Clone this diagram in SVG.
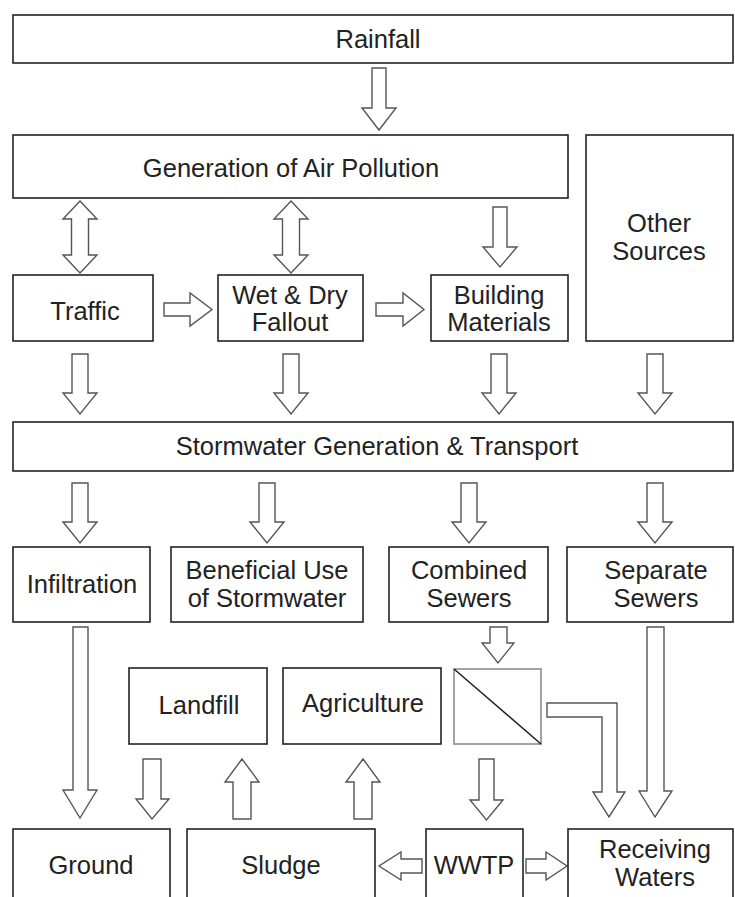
<svg xmlns="http://www.w3.org/2000/svg" width="735" height="897" viewBox="0 0 735 897">
<style>
.box{fill:#fff;stroke:#222;stroke-width:1.6}
.split{fill:#fff;stroke:#9a9a9a;stroke-width:1.8}
.arr{fill:#fff;stroke:#555;stroke-width:1.4;stroke-linejoin:miter}
text{font-family:"Liberation Sans",Arial,sans-serif;font-size:25.5px;fill:#222;text-anchor:middle}
</style>
<rect width="735" height="897" fill="#fff"/>
<g id="connectors">
<polygon class="arr" points="372,68 386,68 386,108 396,108 379,130 362,108 372,108"/>
<polygon class="arr" points="80,201 97,219 88.5,219 88.5,255 97,255 80,273 63,255 71.5,255 71.5,219 63,219"/>
<polygon class="arr" points="291,201 308,219 299.5,219 299.5,255 308,255 291,273 274,255 282.5,255 282.5,219 274,219"/>
<polygon class="arr" points="493,207 507,207 507,247 517,247 500,267 483,247 493,247"/>
<polygon class="arr" points="164,303 190,303 190,293 212,309.5 190,326 190,316 164,316"/>
<polygon class="arr" points="376,303 403,303 403,293 424,309.5 403,326 403,316 376,316"/>
<polygon class="arr" points="72,354 88,354 88,393 97,393 80,414 63,393 72,393"/>
<polygon class="arr" points="283,354 299,354 299,393 308,393 291,414 274,393 283,393"/>
<polygon class="arr" points="491,354 507,354 507,393 516,393 499,414 482,393 491,393"/>
<polygon class="arr" points="647,354 663,354 663,393 672,393 655,414 638,393 647,393"/>
<polygon class="arr" points="72,483 88,483 88,522 97,522 80,543 63,522 72,522"/>
<polygon class="arr" points="259,483 275,483 275,522 284,522 267,543 250,522 259,522"/>
<polygon class="arr" points="461,483 477,483 477,522 486,522 469,543 452,522 461,522"/>
<polygon class="arr" points="647,483 663,483 663,522 672,522 655,543 638,522 647,522"/>
<polygon class="arr" points="490,627 507,627 507,643 514,643 498,663 482,643 490,643"/>
<polygon class="arr" points="73,627 88,627 88,790 97,790 80,818 63,790 73,790"/>
<polygon class="arr" points="647,627 664,627 664,791 672,791 655,817 639,791 647,791"/>
<polygon class="arr" points="547,703 617,703 617,792 625,792 609,817 593,792 602,792 602,717 547,717"/>
<polygon class="arr" points="143,759 161,759 161,799 169,799 152,819 136,799 143,799"/>
<polygon class="arr" points="242,759 259,782 251,782 251,819 233,819 233,782 225,782"/>
<polygon class="arr" points="363,759 380,782 372,782 372,819 354,819 354,782 346,782"/>
<polygon class="arr" points="479,759 494,759 494,800 503,800 486.5,820 470,800 479,800"/>
<polygon class="arr" points="422,859 401,859 401,852 379,866 401,880 401,873 422,873"/>
<polygon class="arr" points="526,859 546,859 546,852 567,866 546,880 546,873 526,873"/>
</g>
<g id="rainfall"><rect class="box" x="13" y="15" width="720" height="48"/><text x="378" y="48">Rainfall</text></g>
<g id="air-pollution"><rect class="box" x="13" y="135" width="555" height="63"/><text x="291" y="177">Generation of Air Pollution</text></g>
<g id="other-sources"><rect class="box" x="586" y="135" width="147" height="206"/><text x="659" y="232">Other</text><text x="659" y="260">Sources</text></g>
<g id="traffic"><rect class="box" x="13" y="275" width="140" height="66"/><text x="85" y="320">Traffic</text></g>
<g id="fallout"><rect class="box" x="218" y="275" width="145" height="66"/><text x="290" y="304">Wet &amp; Dry</text><text x="290" y="331">Fallout</text></g>
<g id="building"><rect class="box" x="431" y="275" width="137" height="66"/><text x="499" y="304">Building</text><text x="499" y="331">Materials</text></g>
<g id="stormwater"><rect class="box" x="13" y="422" width="720" height="49"/><text x="377" y="455">Stormwater Generation &amp; Transport</text></g>
<g id="infiltration"><rect class="box" x="13" y="547" width="137" height="75"/><text x="82" y="593">Infiltration</text></g>
<g id="beneficial"><rect class="box" x="171" y="547" width="192" height="75"/><text x="267" y="579">Beneficial Use</text><text x="267" y="607">of Stormwater</text></g>
<g id="combined"><rect class="box" x="389" y="547" width="159" height="75"/><text x="469" y="579">Combined</text><text x="469" y="607">Sewers</text></g>
<g id="separate"><rect class="box" x="567" y="547" width="166" height="75"/><text x="656" y="579">Separate</text><text x="656" y="607">Sewers</text></g>
<g id="landfill"><rect class="box" x="129" y="668" width="138" height="76"/><text x="199" y="714">Landfill</text></g>
<g id="agriculture"><rect class="box" x="283" y="668" width="158" height="76"/><text x="363" y="712">Agriculture</text></g>
<g id="splitter"><rect class="split" x="454" y="669" width="87" height="75"/><line x1="454" y1="669" x2="541" y2="744" stroke="#222" stroke-width="1.6"/></g>
<g id="ground"><rect class="box" x="13" y="829" width="157" height="80"/><text x="91" y="874">Ground</text></g>
<g id="sludge"><rect class="box" x="187" y="829" width="188" height="80"/><text x="281" y="874">Sludge</text></g>
<g id="wwtp"><rect class="box" x="426" y="829" width="97" height="80"/><text x="474" y="874">WWTP</text></g>
<g id="receiving"><rect class="box" x="568" y="829" width="165" height="80"/><text x="655" y="858">Receiving</text><text x="655" y="886">Waters</text></g>
</svg>
